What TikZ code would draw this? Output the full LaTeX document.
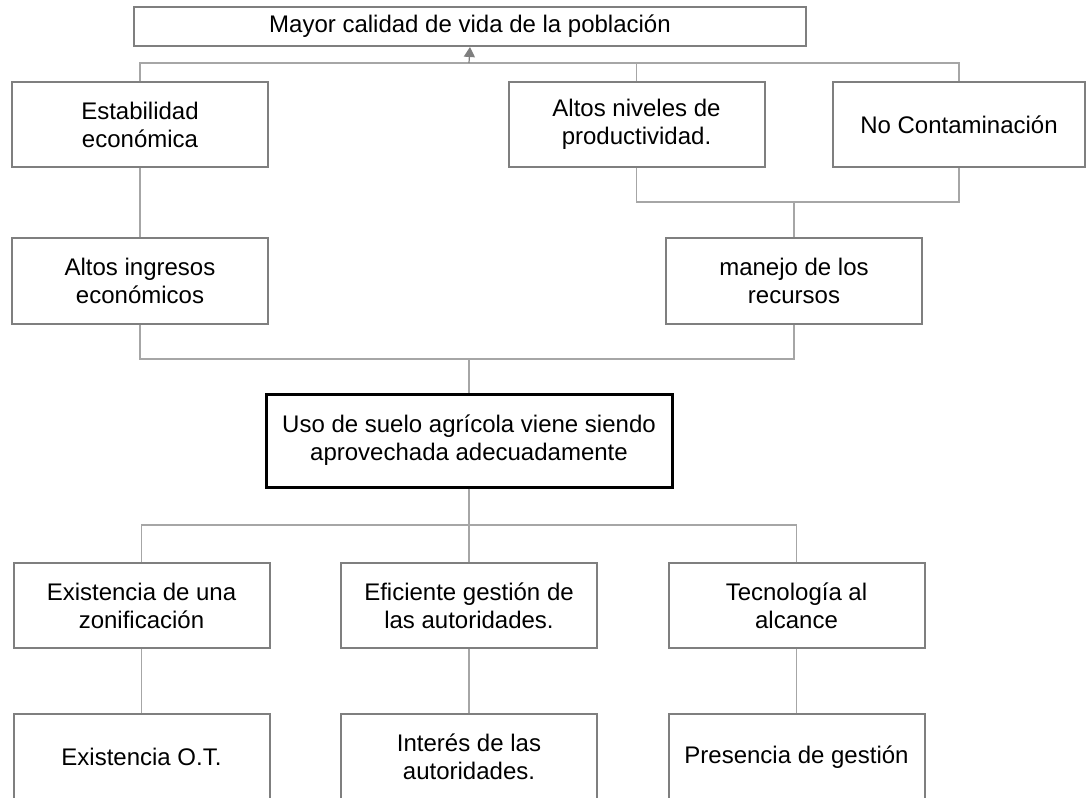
\documentclass[tikz,border=0pt]{standalone}
\usepackage{fontspec}
\setmainfont{Liberation Sans}
\usepackage{xcolor}
\usetikzlibrary{arrows.meta,calc}
\definecolor{boxgray}{HTML}{7F7F7F}
\definecolor{linkgray}{HTML}{A6A6A6}

\begin{document}
\begin{tikzpicture}[x=0.5pt, y=-0.5pt,
    every node/.style={font=\fontsize{12}{14}\selectfont},
    treebox/.style={draw=boxgray, line width=1pt, fill=white, align=center, inner sep=0pt, minimum width=128pt, minimum height=42.5pt},
    corebox/.style={draw=black, line width=1.5pt, fill=white, align=center, inner sep=0pt, minimum width=203pt, minimum height=46.5pt},
    link/.style={draw=linkgray, line width=0.6pt},
    uparrow/.style={draw=boxgray, line width=0.6pt, -{Triangle[length=5pt, width=5.5pt]}}]

    \useasboundingbox (0,0) rectangle (1089,798);
    \clip (0,0) rectangle (1089,798);

    % Fin
    \node[treebox, minimum width=336pt, minimum height=19.5pt] (top) at (470,26.5) {Mayor calidad de vida de la población};

    % Efectos
    \node[treebox] (estab) at (140,124.5) {Estabilidad\\económica};
    \node[treebox] (nivel) at (636.5,124.5) {Altos niveles de\\productividad.};
    \node[treebox, minimum width=126pt] (nocont) at (959,124.5) {No Contaminación};
    \node[treebox, minimum height=43pt] (ingresos) at (140,281) {Altos ingresos\\económicos};
    \node[treebox, minimum height=43pt] (manejo) at (794,281) {manejo de los\\recursos};

    % Problema central
    \node[corebox] (uso) at (469,440.5) {Uso de suelo agrícola viene siendo\\aprovechada adecuadamente};

    % Medios
    \node[treebox] (zonif) at (141.5,605.5) {Existencia de una\\zonificación};
    \node[treebox] (gestion) at (469,605.5) {Eficiente gestión de\\las autoridades.};
    \node[treebox] (tecno) at (796.5,605.5) {Tecnología al\\alcance};
    \node[treebox, minimum height=43pt] (ot) at (141.5,757) {Existencia O.T.};
    \node[treebox, minimum height=43pt] (interes) at (469,757) {Interés de las\\autoridades.};
    \node[treebox, minimum height=43pt] (presencia) at (796.5,757) {Presencia de gestión};

    % Uniones
    \coordinate (jtop) at (469,63);
    \coordinate (jres) at (794,202);
    \coordinate (jmid) at (469,359);
    \coordinate (jlow) at (469,525);

    \draw[link] (estab.north) -- (estab.north |- jtop) -- (nocont.north |- jtop) -- (nocont.north);
    \draw[link] (nivel.north) -- (nivel.north |- jtop);
    \draw[uparrow] (jtop) -- (top.south);

    \draw[link] (nivel.south) -- (nivel.south |- jres) -- (nocont.south |- jres) -- (nocont.south);
    \draw[link] (jres) -- (manejo.north);
    \draw[link] (estab.south) -- (ingresos.north);

    \draw[link] (ingresos.south) -- (ingresos.south |- jmid) -- (manejo.south |- jmid) -- (manejo.south);
    \draw[link] (jmid) -- (uso.north);

    \draw[link] (uso.south) -- (jlow);
    \draw[link] (zonif.north) -- (zonif.north |- jlow) -- (tecno.north |- jlow) -- (tecno.north);
    \draw[link] (jlow) -- (gestion.north);

    \foreach \a/\b in {zonif/ot, gestion/interes, tecno/presencia}
        \draw[link] (\a.south) -- (\b.north);
\end{tikzpicture}
\end{document}
